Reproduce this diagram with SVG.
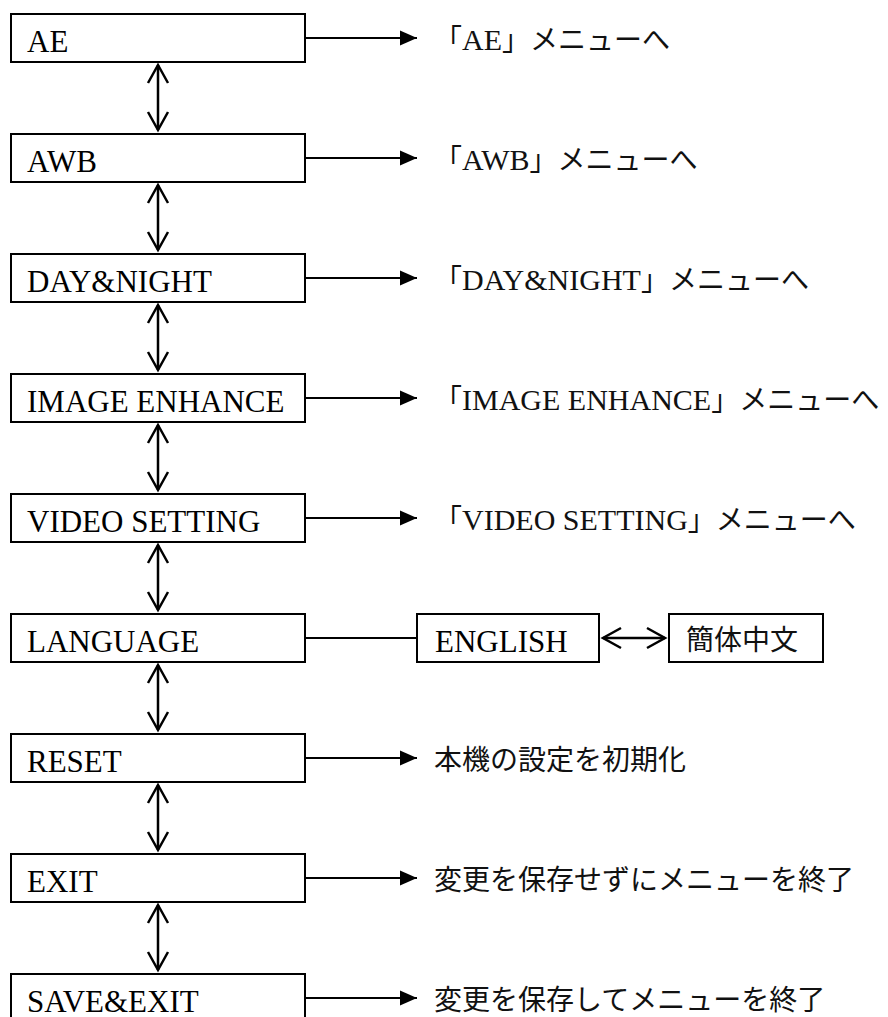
<svg xmlns="http://www.w3.org/2000/svg" width="888" height="1017" viewBox="0 0 888 1017">
<style>
.box{fill:#fff;stroke:#000;stroke-width:2}
.lbl{font-family:"Liberation Serif","Noto Sans CJK JP",serif;font-size:31px;fill:#000}
.note{font-family:"Liberation Serif","Noto Sans CJK JP",serif;font-size:28px;fill:#111}
.lat{font-size:30px}
.ln{stroke:#000;stroke-width:2;fill:none}
.dbl{stroke:#000;stroke-width:2.5;fill:none;marker-start:url(#open);marker-end:url(#open)}
.arr{stroke:#000;stroke-width:2;fill:none;marker-end:url(#fill)}
</style>
<defs>
<marker id="fill" markerUnits="userSpaceOnUse" markerWidth="17" markerHeight="15" refX="17" refY="7.5" orient="auto" overflow="visible"><path d="M0,0 L17,7.5 L0,15 Z" fill="#000"/></marker>
<marker id="open" markerUnits="userSpaceOnUse" markerWidth="20" markerHeight="22" refX="18" refY="10" orient="auto-start-reverse" overflow="visible"><path d="M0,0 L18,10 L0,20" fill="none" stroke="#000" stroke-width="2.5"/></marker>
</defs>
<rect width="888" height="1017" fill="#fff"/>
<g id="connectors">
<line class="arr" x1="305" y1="38" x2="417" y2="38"/>
<line class="arr" x1="305" y1="158" x2="417" y2="158"/>
<line class="arr" x1="305" y1="278" x2="417" y2="278"/>
<line class="arr" x1="305" y1="398" x2="417" y2="398"/>
<line class="arr" x1="305" y1="518" x2="417" y2="518"/>
<line class="ln" x1="305" y1="638" x2="417" y2="638"/>
<line class="dbl" x1="603" y1="638" x2="665" y2="638"/>
<line class="arr" x1="305" y1="758" x2="417" y2="758"/>
<line class="arr" x1="305" y1="878" x2="417" y2="878"/>
<line class="arr" x1="305" y1="998" x2="417" y2="998"/>
<line class="dbl" x1="158" y1="65" x2="158" y2="130"/>
<line class="dbl" x1="158" y1="185" x2="158" y2="250"/>
<line class="dbl" x1="158" y1="305" x2="158" y2="370"/>
<line class="dbl" x1="158" y1="425" x2="158" y2="490"/>
<line class="dbl" x1="158" y1="545" x2="158" y2="610"/>
<line class="dbl" x1="158" y1="665" x2="158" y2="730"/>
<line class="dbl" x1="158" y1="785" x2="158" y2="850"/>
<line class="dbl" x1="158" y1="905" x2="158" y2="970"/>
</g>
<g id="ae"><rect class="box" x="11" y="14" width="294" height="48"/><text class="lbl" x="27" y="52">AE</text></g>
<g id="awb"><rect class="box" x="11" y="134" width="294" height="48"/><text class="lbl" x="27" y="172">AWB</text></g>
<g id="daynight"><rect class="box" x="11" y="254" width="294" height="48"/><text class="lbl" x="27" y="292">DAY&amp;NIGHT</text></g>
<g id="imageenhance"><rect class="box" x="11" y="374" width="294" height="48"/><text class="lbl" x="27" y="412">IMAGE ENHANCE</text></g>
<g id="videosetting"><rect class="box" x="11" y="494" width="294" height="48"/><text class="lbl" x="27" y="532">VIDEO SETTING</text></g>
<g id="language"><rect class="box" x="11" y="614" width="294" height="48"/><text class="lbl" x="27" y="652">LANGUAGE</text></g>
<g id="reset"><rect class="box" x="11" y="734" width="294" height="48"/><text class="lbl" x="27" y="772">RESET</text></g>
<g id="exit"><rect class="box" x="11" y="854" width="294" height="48"/><text class="lbl" x="27" y="892">EXIT</text></g>
<g id="saveexit"><rect class="box" x="11" y="974" width="294" height="48"/><text class="lbl" x="27" y="1012">SAVE&amp;EXIT</text></g>
<g id="english"><rect class="box" x="417" y="614" width="182" height="48"/><text class="lbl" x="435" y="652">ENGLISH</text></g>
<g id="chinese"><rect class="box" x="669" y="614" width="154" height="48"/><text class="note" x="686" y="650">簡体中文</text></g>
<g id="notes">
<text class="note" x="434" y="50">「<tspan class="lat">AE</tspan>」メニューへ</text>
<text class="note" x="434" y="170">「<tspan class="lat">AWB</tspan>」メニューへ</text>
<text class="note" x="434" y="290">「<tspan class="lat">DAY&amp;NIGHT</tspan>」メニューへ</text>
<text class="note" x="434" y="410">「<tspan class="lat">IMAGE ENHANCE</tspan>」メニューへ</text>
<text class="note" x="434" y="530">「<tspan class="lat">VIDEO SETTING</tspan>」メニューへ</text>
<text class="note" x="434" y="770">本機の設定を初期化</text>
<text class="note" x="434" y="890">変更を保存せずにメニューを終了</text>
<text class="note" x="434" y="1010">変更を保存してメニューを終了</text>
</g>
</svg>
